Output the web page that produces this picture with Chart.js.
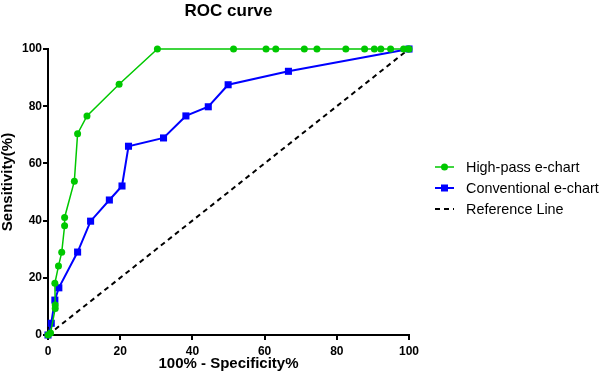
<!DOCTYPE html>
<html>
<head>
<meta charset="utf-8">
<script src="https://cdn.jsdelivr.net/npm/chart.js@4.4.0/dist/chart.umd.min.js"></script>
<style>
  html, body { margin: 0; padding: 0; background: #fff; }
  #wrap { width: 600px; height: 379px; }
</style>
</head>
<body>
<div id="wrap"><canvas id="roc"></canvas></div>
<script>
// Curva ROC: puntos (x = 100% - especificidad, y = sensibilidad)
var highPassX = [0, 0.7, 2.0, 2.0, 1.9, 2.9, 3.8, 4.6, 4.6, 7.3, 8.2, 10.8, 19.7, 30.3,
    51.4, 60.4, 63.1, 71.0, 74.5, 82.5, 87.7, 90.4, 92.2, 94.9, 98.5, 99.8, 100];
var highPassY = [0, 0.7, 9.3, 10.5, 18.1, 24.1, 28.9, 38.2, 41.1, 53.8, 70.4, 76.6, 87.7, 100,
    100, 100, 100, 100, 100, 100, 100, 100, 100, 100, 100, 100, 100];

var convX = [0, 0.9, 1.9, 3.0, 8.2, 11.8, 17.0, 20.5, 22.3, 32.0, 38.2, 44.4, 49.9, 66.6, 100];
var convY = [0, 4.1, 12.2, 16.5, 29.0, 39.8, 47.2, 52.1, 66.0, 68.9, 76.6, 79.8, 87.5, 92.2, 100];

var refX = [0, 100];
var refY = [0, 100];

var xTicks = [0, 20, 40, 60, 80, 100];
var yTicks = [0, 20, 40, 60, 80, 100];

var labelsSeries = ['High-pass e-chart', 'Conventional e-chart', 'Reference Line'];

function toPoints(xs, ys) {
    var pts = [];
    for (var i = 0; i < xs.length; i++) {
        pts.push({ x: xs[i], y: ys[i] });
    }
    return pts;
}

var green = 'rgb(0, 200, 0)';
var blue = 'rgb(0, 0, 255)';
var fontFamily = 'Arial, "Liberation Sans", sans-serif';

// Título y título del eje Y dibujados a mano
var titlePlugin = {
    id: 'rocTitle',
    afterDraw: function (chart) {
        var ctx = chart.ctx;
        var area = chart.chartArea;
        ctx.save();
        ctx.fillStyle = '#000';
        ctx.textAlign = 'center';
        ctx.textBaseline = 'middle';
        ctx.font = 'bold 17px ' + fontFamily;
        ctx.fillText('ROC curve', (area.left + area.right) / 2, 11);
        ctx.translate(8, 182);
        ctx.rotate(-Math.PI / 2);
        ctx.font = 'bold 15px ' + fontFamily;
        ctx.fillText('Sensitivity(%)', 0, 0);
        ctx.restore();
    }
};

// Leyenda a la derecha, con el estilo de cada serie
var legendPlugin = {
    id: 'rocLegend',
    afterDraw: function (chart) {
        var ctx = chart.ctx;
        var x0 = 435, x1 = 454, tx = 466;
        var ys = [167, 188, 209];
        ctx.save();
        ctx.font = '14.4px ' + fontFamily;
        ctx.textBaseline = 'middle';
        ctx.textAlign = 'left';
        chart.data.datasets.forEach(function (ds, i) {
            var y = ys[i];
            ctx.strokeStyle = ds.borderColor;
            ctx.lineWidth = ds.borderWidth;
            ctx.setLineDash(ds.borderDash || []);
            ctx.beginPath();
            ctx.moveTo(x0, y);
            ctx.lineTo(x1, y);
            ctx.stroke();
            ctx.setLineDash([]);
            ctx.fillStyle = ds.borderColor;
            if (ds.pointStyle === 'circle') {
                ctx.beginPath();
                ctx.arc((x0 + x1) / 2, y, 3.5, 0, Math.PI * 2);
                ctx.fill();
            } else if (ds.pointStyle === 'rect') {
                ctx.fillRect((x0 + x1) / 2 - 3.5, y - 3.5, 7, 7);
            }
            ctx.fillStyle = '#000';
            ctx.fillText(ds.label, tx, y + 1);
        });
        ctx.restore();
    }
};

var tickFont = { family: fontFamily, size: 12, weight: 'bold' };
var titleFont = { family: fontFamily, size: 15, weight: 'bold' };

new Chart(document.getElementById('roc').getContext('2d'), {
    type: 'line',
    data: {
        datasets: [
            {
                label: labelsSeries[0],
                data: toPoints(highPassX, highPassY),
                borderColor: green,
                backgroundColor: green,
                borderWidth: 1.5,
                pointStyle: 'circle',
                pointRadius: 3.5,
                pointBorderWidth: 0,
                clip: false
            },
            {
                label: labelsSeries[1],
                data: toPoints(convX, convY),
                borderColor: blue,
                backgroundColor: blue,
                borderWidth: 2,
                pointStyle: 'rect',
                pointRadius: 5,
                pointBorderWidth: 0,
                clip: false
            },
            {
                label: labelsSeries[2],
                data: toPoints(refX, refY),
                borderColor: '#000',
                backgroundColor: '#000',
                borderWidth: 2,
                borderDash: [5, 4],
                pointRadius: 0,
                pointStyle: false,
                clip: false
            }
        ]
    },
    options: {
        responsive: true,
        maintainAspectRatio: false,
        animation: false,
        layout: { padding: { top: 49, right: 191, bottom: 0, left: 0 } },
        plugins: {
            legend: { display: false },
            title: { display: false },
            tooltip: { enabled: false }
        },
        scales: {
            x: {
                type: 'linear',
                min: 0,
                max: 100,
                afterFit: function (scale) { scale.height = 44; },
                afterBuildTicks: function (scale) {
                    scale.ticks = xTicks.map(function (v) { return { value: v }; });
                },
                border: { display: true, color: '#000', width: 2 },
                grid: { display: true, drawOnChartArea: false, drawTicks: true, tickLength: 5, color: '#000', lineWidth: 2 },
                ticks: { color: '#000', font: tickFont, padding: 4, maxRotation: 0 },
                title: { display: true, text: '100% - Specificity%', color: '#000', font: titleFont, padding: { top: 0, bottom: 6 } }
            },
            y: {
                type: 'linear',
                min: 0,
                max: 100,
                afterFit: function (scale) { scale.width = 48; },
                afterBuildTicks: function (scale) {
                    scale.ticks = yTicks.map(function (v) { return { value: v }; });
                },
                border: { display: true, color: '#000', width: 2 },
                grid: { display: true, drawOnChartArea: false, drawTicks: true, tickLength: 5, color: '#000', lineWidth: 2 },
                ticks: { color: '#000', font: tickFont, padding: 1 },
                title: { display: false }
            }
        }
    },
    plugins: [titlePlugin, legendPlugin]
});
</script>
</body>
</html>
